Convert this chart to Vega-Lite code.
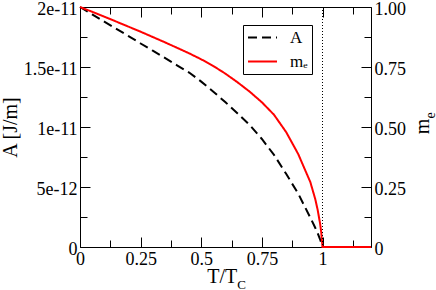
{
  "$schema": "https://vega.github.io/schema/vega-lite/v6.json",
  "width": 291,
  "height": 240,
  "autosize": {"type": "none"},
  "padding": {"left": 80, "top": 7, "right": 65, "bottom": 43},
  "background": "white",
  "config": {
    "view": {"stroke": null},
    "font": "Liberation Serif",
    "axis": {
      "grid": false,
      "domainColor": "black",
      "tickColor": "black",
      "labelColor": "black",
      "titleColor": "black",
      "labelFont": "Liberation Serif",
      "titleFont": "Liberation Serif",
      "labelFontSize": 18,
      "titleFontSize": 20,
      "titleFontWeight": "normal",
      "domainWidth": 1,
      "tickWidth": 1,
      "labelFlush": false,
      "labelOverlap": false
    }
  },
  "datasets": {
    "curve": [
      {"t": 0, "A": 2e-11, "m": 1.0},
      {"t": 0.05, "A": 1.938e-11, "m": 0.98},
      {"t": 0.1, "A": 1.878e-11, "m": 0.96},
      {"t": 0.15, "A": 1.818e-11, "m": 0.939},
      {"t": 0.2, "A": 1.758e-11, "m": 0.918},
      {"t": 0.25, "A": 1.696e-11, "m": 0.897},
      {"t": 0.3, "A": 1.636e-11, "m": 0.875},
      {"t": 0.35, "A": 1.576e-11, "m": 0.853},
      {"t": 0.4, "A": 1.514e-11, "m": 0.83},
      {"t": 0.45, "A": 1.454e-11, "m": 0.807},
      {"t": 0.5, "A": 1.378e-11, "m": 0.782},
      {"t": 0.55, "A": 1.294e-11, "m": 0.754},
      {"t": 0.6, "A": 1.206e-11, "m": 0.722},
      {"t": 0.65, "A": 1.112e-11, "m": 0.686},
      {"t": 0.7, "A": 1.016e-11, "m": 0.647},
      {"t": 0.75, "A": 9.0e-12, "m": 0.603},
      {"t": 0.8, "A": 7.68e-12, "m": 0.551},
      {"t": 0.85, "A": 6.1e-12, "m": 0.479},
      {"t": 0.9, "A": 4.44e-12, "m": 0.387},
      {"t": 0.95, "A": 2.44e-12, "m": 0.27},
      {"t": 0.97, "A": 1.6e-12, "m": 0.2},
      {"t": 0.98, "A": 1.16e-12, "m": 0.155},
      {"t": 0.99, "A": 6.4e-13, "m": 0.098},
      {"t": 0.995, "A": 3.2e-13, "m": 0.06},
      {"t": 1.0, "A": 0, "m": 0},
      {"t": 1.2, "A": 0, "m": 0}
    ]
  },
  "layer": [
    {
      "data": {"name": "curve"},
      "mark": {"type": "line", "strokeWidth": 2},
      "encoding": {
        "x": {
          "field": "t", "type": "quantitative",
          "scale": {"domain": [0, 1.2], "nice": false, "zero": false},
          "axis": {
            "orient": "bottom", "values": [0, 0.25, 0.5, 0.75, 1],
            "tickSize": -10, "labelPadding": 13,
            "labelExpr": "datum.value == 0 ? '0' : '' + datum.value",
            "title": "T/T", "titleX": 141.7, "titleY": 35,
            "titleAlign": "center", "titleBaseline": "alphabetic"
          }
        },
        "y": {
          "field": "A", "type": "quantitative",
          "scale": {"domain": [0, 2e-11], "nice": false},
          "axis": {
            "orient": "left", "values": [0, 5e-12, 1e-11, 1.5e-11, 2e-11],
            "tickSize": -10, "labelPadding": 13, "labelOffset": 2,
            "labelExpr": "datum.value == 0 ? '0' : datum.value < 6e-12 ? '5e-12' : datum.value < 1.2e-11 ? '1e-11' : datum.value < 1.7e-11 ? '1.5e-11' : '2e-11'",
            "title": "A [J/m]", "titleX": -64, "titleY": 120, "titleAngle": -90,
            "titleAlign": "center", "titleBaseline": "alphabetic"
          }
        },
        "color": {
          "datum": "A", "type": "nominal",
          "scale": {"domain": ["A", "mₑ"], "range": ["black", "red"]},
          "legend": {"orient": "none", "legendX": 163, "legendY": 18, "title": null, "strokeColor": "black", "fillColor": "white", "padding": 4, "symbolType": "stroke", "symbolSize": 841, "symbolStrokeWidth": 2, "clipHeight": 17, "labelFont": "Liberation Serif", "labelFontSize": 17, "labelColor": "black", "labelOffset": 12, "rowPadding": 6}
        },
        "strokeDash": {
          "datum": "A", "type": "nominal",
          "scale": {"domain": ["A", "mₑ"], "range": [[9, 5], [1, 0]]},
          "legend": {"orient": "none", "legendX": 163, "legendY": 18, "title": null, "strokeColor": "black", "fillColor": "white", "padding": 4, "symbolType": "stroke", "symbolSize": 841, "symbolStrokeWidth": 2, "clipHeight": 17, "labelFont": "Liberation Serif", "labelFontSize": 17, "labelColor": "black", "labelOffset": 12, "rowPadding": 6}
        }
      }
    },
    {
      "data": {"name": "curve"},
      "mark": {"type": "line", "strokeWidth": 2},
      "encoding": {
        "x": {
          "field": "t", "type": "quantitative",
          "scale": {"domain": [0, 1.2], "nice": false, "zero": false},
          "axis": {
            "orient": "top", "values": [0, 0.25, 0.5, 0.75, 1],
            "tickSize": -10, "labels": false, "title": null
          }
        },
        "y": {
          "field": "m", "type": "quantitative",
          "scale": {"domain": [0, 1], "nice": false},
          "axis": {
            "orient": "right", "values": [0, 0.25, 0.5, 0.75, 1],
            "tickSize": -10, "labelPadding": 13, "labelOffset": 2,
            "labelExpr": "datum.value == 0 ? '0' : format(datum.value, '.2f')",
            "title": "m", "titleX": 57, "titleY": 119, "titleAngle": -90,
            "titleAlign": "center", "titleBaseline": "alphabetic"
          }
        },
        "color": {"datum": "mₑ", "type": "nominal"},
        "strokeDash": {"datum": "mₑ", "type": "nominal"}
      }
    },
    {
      "data": {"values": [{"t": 1}]},
      "mark": {"type": "rule", "color": "black", "strokeWidth": 1, "strokeDash": [1, 2]},
      "encoding": {
        "x": {
          "field": "t", "type": "quantitative",
          "scale": {"domain": [0, 1.2], "nice": false, "zero": false},
          "axis": {
            "orient": "bottom", "values": [0.125, 0.375, 0.625, 0.875, 1.125],
            "tickSize": -7, "labels": false, "domain": false,
            "title": "C", "titleFontSize": 13, "titleX": 161, "titleY": 41,
            "titleAlign": "center", "titleBaseline": "alphabetic"
          }
        }
      }
    },
    {
      "data": {"name": "curve"},
      "mark": {"type": "line", "opacity": 0},
      "encoding": {
        "x": {
          "field": "t", "type": "quantitative",
          "scale": {"domain": [0, 1.2], "nice": false, "zero": false},
          "axis": {
            "orient": "top", "values": [0.125, 0.375, 0.625, 0.875, 1.125],
            "tickSize": -7, "labels": false, "domain": false, "title": null
          }
        },
        "y": {
          "field": "A", "type": "quantitative",
          "scale": {"domain": [0, 2e-11], "nice": false},
          "axis": {
            "orient": "left", "values": [2.5e-12, 7.5e-12, 1.25e-11, 1.75e-11],
            "tickSize": -7, "labels": false, "domain": false, "title": null
          }
        }
      }
    },
    {
      "data": {"name": "curve"},
      "mark": {"type": "line", "opacity": 0},
      "encoding": {
        "x": {
          "field": "t", "type": "quantitative",
          "scale": {"domain": [0, 1.2], "nice": false, "zero": false},
          "axis": null
        },
        "y": {
          "field": "m", "type": "quantitative",
          "scale": {"domain": [0, 1], "nice": false},
          "axis": {
            "orient": "right", "values": [0.125, 0.375, 0.625, 0.875],
            "tickSize": -7, "labels": false, "domain": false,
            "title": "e", "titleFontSize": 14, "titleX": 63, "titleY": 108, "titleAngle": -90,
            "titleAlign": "center", "titleBaseline": "alphabetic"
          }
        }
      }
    }
  ],
  "resolve": {
    "scale": {"y": "independent"},
    "axis": {"x": "independent", "y": "independent"}
  }
}
